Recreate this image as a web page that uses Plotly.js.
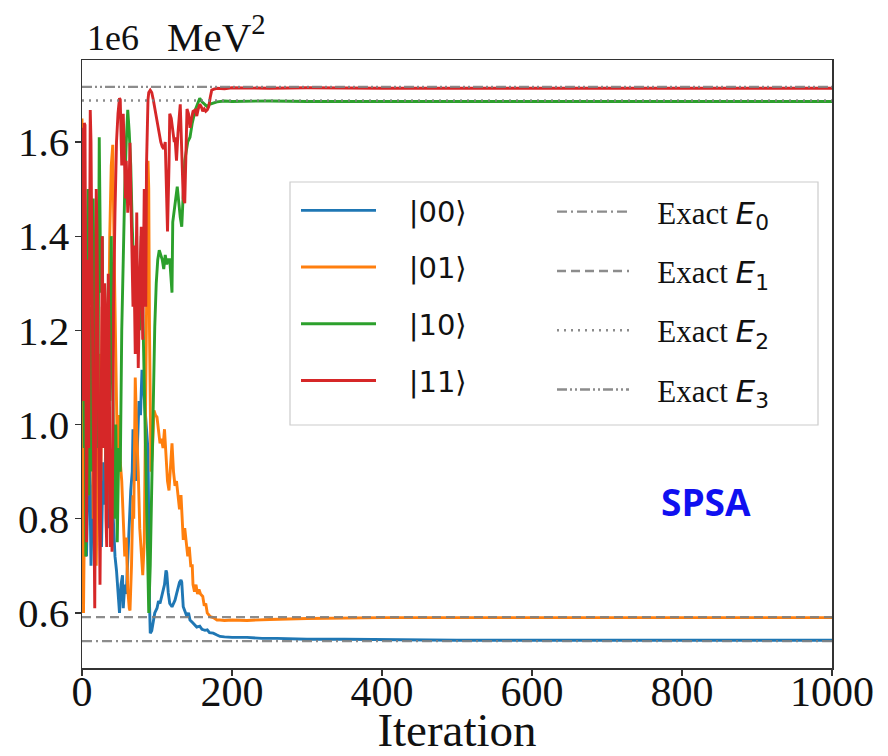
<!DOCTYPE html>
<html>
<head>
<meta charset="utf-8">
<script src="https://cdn.plot.ly/plotly-3.0.1.min.js"></script>
<style>html,body{margin:0;padding:0;background:#fff;}#chart{width:888px;height:756px;}</style>
</head>
<body>
<div id="chart"></div>
<script>
// Values in units of 1e6 MeV^2
const iter00 = [0,2,4,6,8,10,12,14,16,18,20,22,24,26,28,30,32,34,36,38,40,42,44,46,48,50,52,54,55,57,59,61,63,65,67,68,70,72,74,76,78,80,82,84,86,88,90,91,93,95,97,100,102,104,106,108,110,112,113,115,117,120,122,124,126,128,130,132,133,135,137,140,142,144,147,150,153,157,160,164,167,170,175,180,184,190,200,220,240,260,300,350,400,500,600,700,800,900,1000];
const val00  = [0.93,0.78,0.98,0.72,0.88,0.95,0.70,0.85,0.97,0.75,0.90,0.80,0.96,0.74,0.92,0.83,0.99,0.78,0.88,0.93,0.86,0.78,0.72,0.69,0.63,0.60,0.66,0.68,0.61,0.66,0.64,0.72,0.80,0.86,0.90,0.99,0.93,0.88,0.96,1.05,1.02,1.116,1.08,1.04,0.98,0.946,0.62,0.557,0.562,0.58,0.60,0.61,0.625,0.62,0.635,0.645,0.66,0.69,0.685,0.643,0.62,0.613,0.62,0.627,0.64,0.655,0.665,0.67,0.665,0.613,0.605,0.592,0.60,0.585,0.58,0.575,0.57,0.572,0.565,0.563,0.564,0.558,0.557,0.553,0.55,0.549,0.548,0.548,0.546,0.546,0.544,0.544,0.543,0.542,0.542,0.542,0.542,0.542,0.542];

const iter01 = [0,1,2,3,5,7,9,11,13,15,17,19,21,23,25,27,29,31,33,35,37,39,41,43,45,47,49,51,53,55,57,59,61,63,64,66,68,69,71,73,75,77,79,81,83,85,87,88,89,90,92,94,96,98,100,102,104,106,108,110,112,114,116,118,120,122,124,126,128,130,132,134,135,137,139,141,143,145,147,148,150,152,154,156,158,161,163,165,167,169,171,175,180,184,190,200,220,250,300,400,500,600,800,1000];
const val01  = [1.65,1.45,0.60,0.75,1.10,0.85,1.30,0.95,1.20,0.80,1.05,0.70,0.92,1.15,0.88,1.25,0.95,1.05,0.82,1.20,1.40,1.55,1.594,1.35,1.10,0.95,1.02,0.92,0.88,0.80,0.72,0.76,0.65,0.61,0.605,0.70,0.85,0.80,1.10,0.98,0.90,0.78,0.72,0.68,0.75,1.05,1.41,1.56,1.50,1.20,0.90,0.95,1.03,1.02,1.016,0.98,0.96,0.97,0.95,0.99,0.93,0.88,0.86,0.92,0.96,0.90,0.87,0.88,0.84,0.82,0.85,0.80,0.755,0.78,0.74,0.72,0.74,0.70,0.70,0.66,0.645,0.66,0.64,0.65,0.64,0.635,0.615,0.62,0.60,0.595,0.592,0.59,0.585,0.585,0.584,0.585,0.584,0.586,0.588,0.59,0.59,0.59,0.59,0.59];

const iter10 = [0,1,2,3,4,5,6,8,9,11,13,15,17,19,21,23,24,25,27,29,31,33,35,37,39,41,43,45,47,49,51,53,55,57,59,61,63,65,67,69,71,73,75,77,79,81,83,85,87,89,91,93,95,97,99,101,103,105,107,109,111,113,115,117,119,120,121,123,125,127,129,131,133,135,137,139,141,144,147,151,154,157,160,164,167,170,175,180,190,200,250,300,400,500,600,800,1000];
const val10  = [1.45,1.60,1.20,0.95,1.40,0.72,1.30,1.50,0.85,1.25,0.90,1.48,1.10,1.35,0.95,1.61,1.45,1.28,1.40,1.00,1.20,0.85,1.30,1.05,1.40,1.10,0.80,1.00,0.75,0.95,0.90,1.20,1.38,1.50,1.60,1.668,1.62,1.55,1.42,1.35,1.25,1.15,1.30,1.20,1.40,1.25,1.10,0.95,0.75,0.60,0.70,0.90,1.10,1.207,1.30,1.35,1.37,1.36,1.35,1.33,1.36,1.34,1.35,1.35,1.30,1.28,1.43,1.45,1.48,1.505,1.47,1.44,1.42,1.50,1.56,1.58,1.60,1.61,1.64,1.668,1.68,1.693,1.685,1.678,1.675,1.68,1.683,1.685,1.687,1.686,1.687,1.686,1.686,1.686,1.686,1.686,1.686];

const iter11 = [0,1,2,3,4,5,6,7,8,9,10,11,12,13,14,15,16,17,18,19,20,21,22,23,24,25,26,27,28,29,30,31,32,33,34,35,36,37,38,39,40,41,42,44,46,48,50,51,52,53,55,56,58,59,61,63,64,65,66,68,69,71,73,75,77,79,81,83,85,86,88,89,91,93,95,97,99,101,103,105,107,109,111,113,114,116,117,119,121,123,124,126,128,130,131,133,135,137,139,140,142,144,146,148,151,153,155,157,159,161,163,165,167,169,171,173,176,180,190,200,250,300,400,500,600,800,1000];
const val11  = [1.63,1.55,1.05,1.64,1.636,1.30,0.75,1.05,1.35,0.95,1.66,1.668,1.60,1.40,1.15,0.85,0.70,0.61,0.95,1.50,1.42,1.20,0.90,0.72,0.66,0.85,1.35,1.40,1.10,0.95,1.30,1.25,0.80,0.74,1.05,1.32,1.20,0.92,0.74,0.90,0.73,0.95,1.25,1.45,1.60,1.66,1.693,1.69,1.62,1.55,1.66,1.60,1.48,1.56,1.45,1.52,1.598,1.50,1.40,1.25,1.38,1.15,1.45,1.12,1.30,1.42,1.18,1.50,1.25,1.55,1.69,1.705,1.71,1.705,1.69,1.67,1.655,1.64,1.62,1.60,1.59,1.585,1.60,1.45,1.41,1.55,1.66,1.65,1.62,1.60,1.61,1.56,1.62,1.66,1.68,1.58,1.48,1.47,1.60,1.67,1.66,1.63,1.65,1.665,1.668,1.655,1.67,1.68,1.675,1.665,1.67,1.665,1.668,1.675,1.695,1.71,1.712,1.714,1.713,1.715,1.714,1.715,1.714,1.714,1.714,1.714,1.714];

const exactValues = [0.540, 0.591, 1.688, 1.717];
const exactRange = [0, 1000];

const stateLabels = ['|00\u27E9','|01\u27E9','|10\u27E9','|11\u27E9'];
const xTicks = [0,200,400,600,800,1000];
const yTicks = [0.6,0.8,1.0,1.2,1.4,1.6];

const colors = ['#1f77b4','#ff7f0e','#2ca02c','#d62728'];
const dashes = ['10px,4px,2px,4px','9px,5px','2px,5px','10px,3px,2px,3px,2px,3px'];

const NB = '\u00A0';
const series = [[iter00,val00],[iter01,val01],[iter10,val10],[iter11,val11]];
const traces = [];
series.forEach((s,i) => {
  traces.push({x:s[0], y:s[1], type:'scatter', mode:'lines', name:NB+NB+NB+stateLabels[i],
    line:{color:colors[i], width:2.9}, legend:'legend', legendgroup:'s'+i});
});
exactValues.forEach((v,i) => {
  traces.push({x:exactRange, y:[v,v], type:'scatter', mode:'lines',
    name:NB+NB+NB+'Exact <span style="font-family:DejaVu Sans;font-style:italic">E</span><sub><span style="font-family:DejaVu Sans">'+i+'</span></sub>',
    line:{color:'rgba(128,128,128,0.9)', width:2.4, dash:dashes[i]}, legend:'legend2', legendgroup:'e'+i});
});

const W = 750, H = 608;
const layout = {
  width:888, height:756,
  margin:{l:82, r:56, t:60, b:88},
  paper_bgcolor:'#fff', plot_bgcolor:'#fff',
  showlegend:true,
  xaxis:{range:[0,1000], tickvals:xTicks, ticktext:xTicks.map(String),
    ticks:'outside', ticklen:6, tickwidth:1.2, tickcolor:'#333', ticklabelstandoff:-20,
    showline:true, linecolor:'#333', linewidth:1.5, mirror:true, showgrid:false, zeroline:false,
    tickfont:{family:'Liberation Serif', size:42, color:'#111'},
    title:{text:'Iteration', font:{family:'Liberation Serif', size:47, color:'#111'}, standoff:5}},
  yaxis:{range:[0.483,1.774], tickvals:yTicks, ticktext:yTicks.map(v=>v.toFixed(1)),
    ticks:'outside', ticklen:6, tickwidth:1.2, tickcolor:'#333', ticklabelstandoff:-3,
    showline:true, linecolor:'#333', linewidth:1.5, mirror:true, showgrid:false, zeroline:false,
    tickfont:{family:'Liberation Serif', size:41, color:'#111'}},
  legend:{x:(296-82)/W, y:(668-185)/H, xanchor:'left', yanchor:'top', bgcolor:'rgba(0,0,0,0)',
    font:{family:'DejaVu Sans', size:29, color:'#111'}, itemwidth:75, tracegroupgap:16, borderwidth:0},
  legend2:{x:(552-82)/W, y:(668-185)/H, xanchor:'left', yanchor:'top', bgcolor:'rgba(0,0,0,0)',
    font:{family:'Liberation Serif', size:31, color:'#111'}, itemwidth:72, tracegroupgap:16, borderwidth:0},
  shapes:[{type:'rect', xref:'paper', yref:'paper', x0:(290-82)/W, x1:(818-82)/W, y0:(668-425)/H, y1:(668-182)/H,
    fillcolor:'rgba(255,255,255,0.85)', line:{color:'#cccccc', width:1.2}, layer:'above'}],
  annotations:[
    {text:'1e6', xref:'paper', yref:'paper', x:0.004, y:1, xanchor:'left', yanchor:'bottom', showarrow:false,
      font:{family:'Liberation Serif', size:36, color:'#111'}},
    {text:'MeV<sup>2</sup>', xref:'paper', yref:'paper', x:(216-82)/W, y:(668-34)/H, xanchor:'center', yanchor:'middle', showarrow:false,
      font:{family:'Liberation Serif', size:41, color:'#111'}},
    {text:'<b>SPSA</b>', xref:'paper', yref:'paper', x:(706-82)/W, y:(668-501)/H, xanchor:'center', yanchor:'middle', showarrow:false,
      font:{family:'Open Sans', size:37, color:'#1010f0'}}
  ]
};
Plotly.newPlot('chart', traces, layout, {displayModeBar:false, staticPlot:true});
</script>
</body>
</html>
